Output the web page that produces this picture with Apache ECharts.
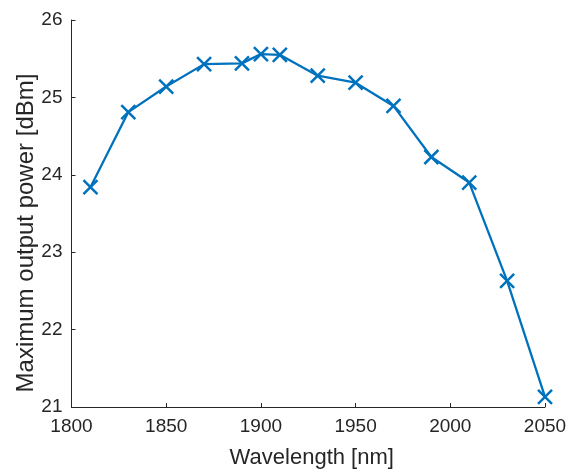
<!DOCTYPE html>
<html><head><meta charset="utf-8">
<script src="https://cdn.jsdelivr.net/npm/echarts@6/dist/echarts.min.js"></script>
<style>html,body{margin:0;padding:0;background:#fff}#c{width:570px;height:474px}</style>
</head><body><div id="c"></div>
<script>
const wavelength = [1810, 1830, 1850, 1870, 1890, 1900, 1910, 1930, 1950, 1970, 1990, 2010, 2030, 2050];
const power = [23.84, 24.81, 25.14, 25.43, 25.44, 25.56, 25.55, 25.28, 25.19, 24.89, 24.23, 23.90, 22.63, 21.13];
const xTicks = [1800, 2050, 50];
const yTicks = [21, 26, 1];
const xTitle = 'Wavelength [nm]';
const yTitle = 'Maximum output power [dBm]';

const chart = echarts.init(document.getElementById('c'), null, {renderer: 'canvas'});
const font = 'Liberation Sans, Arial, Helvetica, sans-serif';
const axisCol = '#262626';
chart.setOption({
  animation: false,
  grid: {left: 71.5, right: 25, top: 20, bottom: 64.5, containLabel: false},
  xAxis: {
    type: 'value', min: xTicks[0], max: xTicks[1], interval: xTicks[2],
    name: xTitle, nameLocation: 'middle', nameGap: 40,
    nameTextStyle: {fontFamily: font, fontSize: 22, color: axisCol, padding: [0, 0, 0, 7]},
    axisLine: {show: true, lineStyle: {color: axisCol, width: 1}},
    axisTick: {show: true, inside: true, length: 4, lineStyle: {color: axisCol}},
    axisLabel: {fontFamily: font, fontSize: 19, color: axisCol, margin: 10, formatter: v => String(v)},
    splitLine: {show: false}
  },
  yAxis: {
    type: 'value', min: yTicks[0], max: yTicks[1], interval: yTicks[2],
    axisLine: {show: true, lineStyle: {color: axisCol, width: 1}},
    axisTick: {show: true, inside: true, length: 4, lineStyle: {color: axisCol}},
    axisLabel: {fontFamily: font, fontSize: 19, color: axisCol, margin: 9},
    splitLine: {show: false}
  },
  graphic: [{
    type: 'text', x: 26, y: 233, rotation: Math.PI / 2,
    style: {text: yTitle, fontFamily: font, fontSize: 24, fill: axisCol, align: 'center', verticalAlign: 'middle'}
  }],
  series: [{
    type: 'line',
    data: wavelength.map((w, i) => [w, power[i]]),
    lineStyle: {color: '#0072BD', width: 2.3},
    symbol: 'path://M0,0L10,10M10,0L0,10',
    symbolSize: 14,
    showAllSymbol: true,
    itemStyle: {color: '#0072BD', borderColor: '#0072BD', borderWidth: 2.5},
    z: 3
  }]
});
</script></body></html>
